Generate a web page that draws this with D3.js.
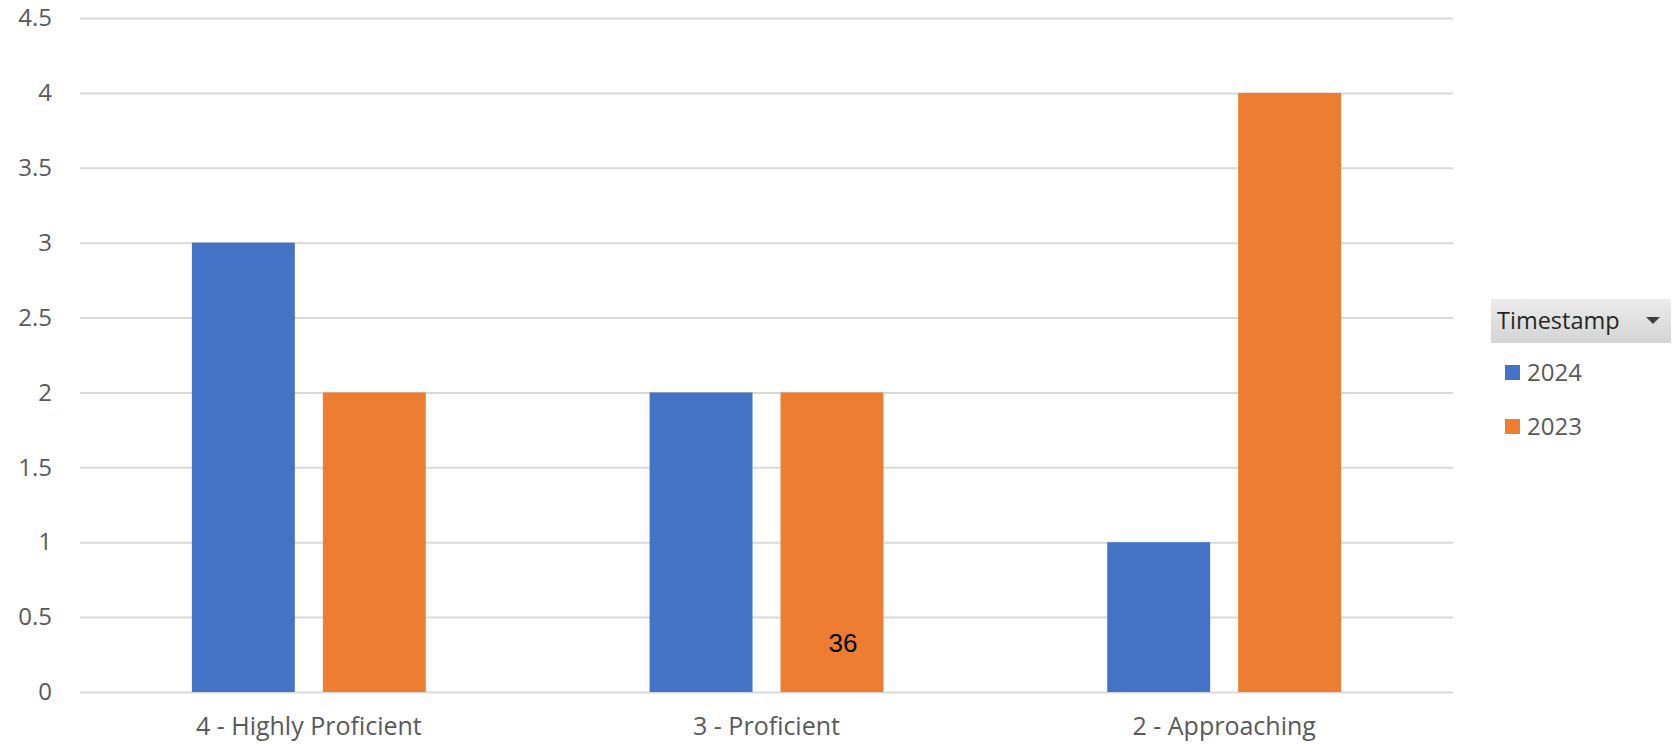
<!DOCTYPE html>
<html lang="en">
<head>
<meta charset="UTF-8">
<title>Chart</title>
<script src="https://d3js.org/d3.v7.min.js"></script>
<style>
  body { margin: 0; background: #fff; }
  svg { display: block; }
</style>
</head>
<body>
<script>
  const categories = ["4 - Highly Proficient", "3 - Proficient", "2 - Approaching"];
  const seriesNames = ["2024", "2023"];
  const values2024 = [3, 2, 1];
  const values2023 = [2, 2, 4];
  const yTicks = [0, 0.5, 1, 1.5, 2, 2.5, 3, 3.5, 4, 4.5];
  const colors = ["#4472C4", "#ED7D31"];
  const legendTitle = "Timestamp";
  const note = "36";

  const W = 1675, H = 744;
  const font = "'Open Sans', 'Noto Sans', sans-serif";

  const svg = d3.select("body").append("svg").attr("width", W).attr("height", H);

  const plot = { left: 80, right: 1453, top: 18, bottom: 692 };

  const y = d3.scaleLinear().domain([0, 4.5]).range([plot.bottom, plot.top]);
  const x0 = d3.scaleBand().domain(categories).range([plot.left, plot.right])
    .paddingInner(0.489).paddingOuter(0.2445);
  const x1 = d3.scaleBand().domain(seriesNames).range([0, x0.bandwidth()])
    .paddingInner(0.214).paddingOuter(0);

  // gridlines + value labels
  const yAxis = d3.axisLeft(y).tickValues(yTicks)
    .tickSize(-(plot.right - plot.left)).tickPadding(28)
    .tickFormat(d3.format("~g"));
  const gy = svg.append("g").attr("transform", `translate(${plot.left},0)`).call(yAxis);
  gy.select(".domain").remove();
  gy.selectAll(".tick line").attr("stroke", "#d9d9d9").attr("stroke-width", 2);
  gy.selectAll(".tick text").attr("fill", "#595959").style("font-family", font).style("font-size", "24px");

  const rows = categories.map((c, i) => ({ cat: c, vals: [values2024[i], values2023[i]] }));

  const groups = svg.append("g").selectAll("g").data(rows).join("g")
    .attr("transform", d => `translate(${x0(d.cat)},0)`);
  groups.selectAll("rect")
    .data(d => d.vals.map((v, j) => ({ key: seriesNames[j], v, j })))
    .join("rect")
    .attr("x", d => x1(d.key))
    .attr("width", x1.bandwidth())
    .attr("y", d => y(d.v))
    .attr("height", d => y(0) - y(d.v))
    .attr("fill", d => colors[d.j]);

  // category axis
  const xAxis = d3.axisBottom(x0).tickSize(0).tickPadding(25);
  const gx = svg.append("g").attr("transform", `translate(0,${plot.bottom})`).call(xAxis);
  gx.select(".domain").remove();
  gx.selectAll(".tick text").attr("fill", "#595959").style("font-family", font).style("font-size", "25px");

  // stray annotation
  svg.append("text")
    .attr("x", x0(categories[1]) + x1("2023") + x1.bandwidth() / 2 + 11)
    .attr("y", 652)
    .attr("text-anchor", "middle")
    .style("font-family", "'Liberation Sans', Arial, sans-serif")
    .style("font-size", "26px")
    .attr("fill", "#000")
    .text(note);

  // legend
  const defs = svg.append("defs");
  const grad = defs.append("linearGradient").attr("id", "hdr").attr("x1", 0).attr("y1", 0).attr("x2", 0).attr("y2", 1);
  grad.append("stop").attr("offset", "0%").attr("stop-color", "#ececec");
  grad.append("stop").attr("offset", "100%").attr("stop-color", "#d4d4d4");

  const lg = svg.append("g").attr("transform", "translate(1491,299)");
  lg.append("rect").attr("width", 180).attr("height", 44).attr("fill", "url(#hdr)");
  lg.append("text").attr("x", 6).attr("y", 30)
    .style("font-family", font).style("font-size", "23.5px").attr("fill", "#262626")
    .text(legendTitle);
  lg.append("path").attr("d", "M155,18 L169,18 L162,25 Z").attr("fill", "#404040");

  const items = lg.selectAll(".item").data(seriesNames).join("g")
    .attr("class", "item")
    .attr("transform", (d, i) => `translate(14,${66 + i * 54})`);
  items.append("rect").attr("width", 15).attr("height", 15).attr("fill", (d, i) => colors[i]);
  items.append("text").attr("x", 22).attr("y", 16)
    .style("font-family", font).style("font-size", "24px").attr("fill", "#595959")
    .text(d => d);
</script>
</body>
</html>
